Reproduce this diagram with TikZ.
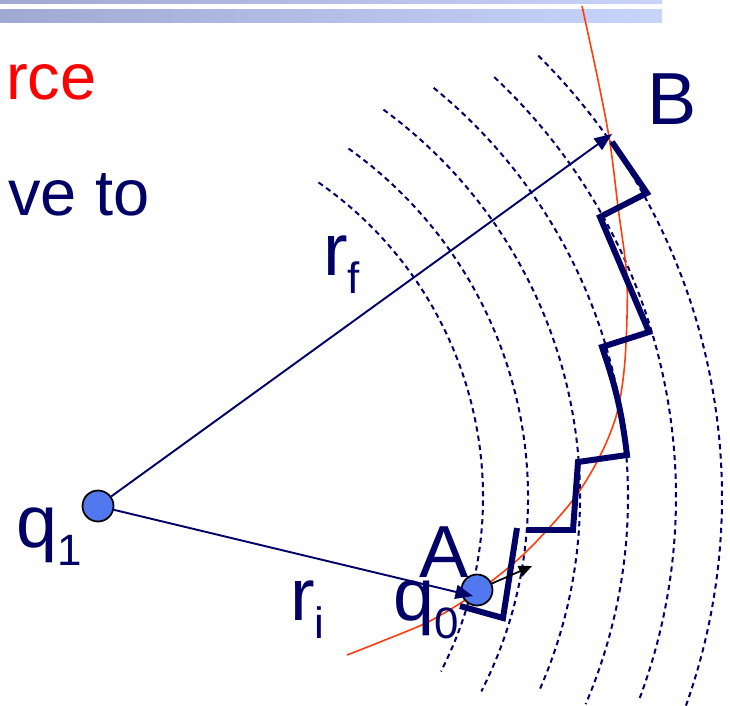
\documentclass[tikz,border=0pt]{standalone}
\usepackage{fontspec}
\setmainfont{Liberation Sans}
\usetikzlibrary{arrows.meta}

\definecolor{navy}{RGB}{0,0,102}
\definecolor{chargeblue}{RGB}{82,120,240}
\definecolor{pathred}{RGB}{255,60,10}
\definecolor{barleft}{RGB}{160,168,212}
\definecolor{barright}{RGB}{200,212,250}

\newcommand{\lowsub}[1]{\raisebox{-10.5pt}{\fontsize{25}{25}\selectfont #1}}

\begin{document}
\begin{tikzpicture}[x=0.02cm, y=0.02cm,
  every node/.style={inner sep=0pt, text=navy},
  lbl/.style={font=\fontsize{42}{46}\selectfont, anchor=base west},
  slide/.style={font=\fontsize{37}{41}\selectfont, anchor=base west},
  charge/.style={circle, draw=black, line width=1pt, fill=chargeblue, minimum size=0.62cm},
  equi/.style={navy, dashed, dash pattern=on 3pt off 2.3pt, line width=1.15pt},
  redpath/.style={pathred, line width=0.9pt},
  workpath/.style={navy, line width=3.4pt, line join=miter},
  rvec/.style={navy, line width=1.1pt, -{Triangle[length=10pt, width=8pt]}},
  force/.style={black, line width=1pt, -{Triangle[length=7.5pt, width=6.5pt]}}
]
  \fill[white] (0,0) rectangle (730,-706);
  \useasboundingbox (0,0) rectangle (730,-706);
  \clip (0,0) rectangle (730,-706);

  % title bars
  \fill[left color=barleft, right color=barright] (0,0) rectangle (662,-4);
  \fill[left color=barleft, right color=barright] (0,-10) rectangle (662,-23);

  \node[slide, text=red] (txtforce) at (6,-100) {rce};
  \node[slide] (txtmove) at (8,-215) {ve to};

  % equipotential arcs round q1
  \coordinate (ctr) at (100,-497);
  \foreach \r/\a/\b in {383/55.2/-27.1, 428/54.5/-27, 480/53.8/-24, 528/50.8/-23.1, 576/46.8/-20.6, 622/45.2/-19.6}
    \draw[equi] (ctr) ++(\a:\r) arc[start angle=\a, end angle=\b, radius=\r];

  \draw[redpath] plot[smooth] coordinates {(347,-655) (380,-642) (430,-621) (477,-592) (525,-553) (573,-500) (600,-456) (617,-413) (625,-360) (627,-280) (618,-207) (610,-143) (598,-80) (582,-6)};

  \draw[workpath] (460,-606) -- (503,-618) -- (517,-528);
  \draw[workpath] (527,-530) -- (573,-530) -- (578,-462) -- (627,-455) to[bend right=6] (602,-347)
    -- (649,-332) -- (600,-217) -- (647,-193) -- (612,-142);

  \node[charge] (q1) at (98,-506) {};
  \node[charge] (q0) at (477,-590) {};

  \coordinate (tipB) at (612,-134);
  \coordinate (tipA) at (473,-596);
  \coordinate (tipF) at (532,-566);
  \draw[rvec] (q1) -- (tipB);
  \draw[rvec] (q1) -- (tipA);
  \draw[force] (q0) -- (tipF);

  \node[lbl] (labB) at (647,-125) {B};
  \node[lbl] (labrf) at (323,-275) {r\lowsub{f}};
  \node[lbl] (labq1) at (16,-547) {q\lowsub{1}};
  \node[lbl] (labri) at (290,-620) {r\lowsub{i}};
  \node[lbl] (labA) at (419,-577) {A};
  \node[lbl] (labq0) at (393,-620) {q\lowsub{0}};
\end{tikzpicture}
\end{document}
